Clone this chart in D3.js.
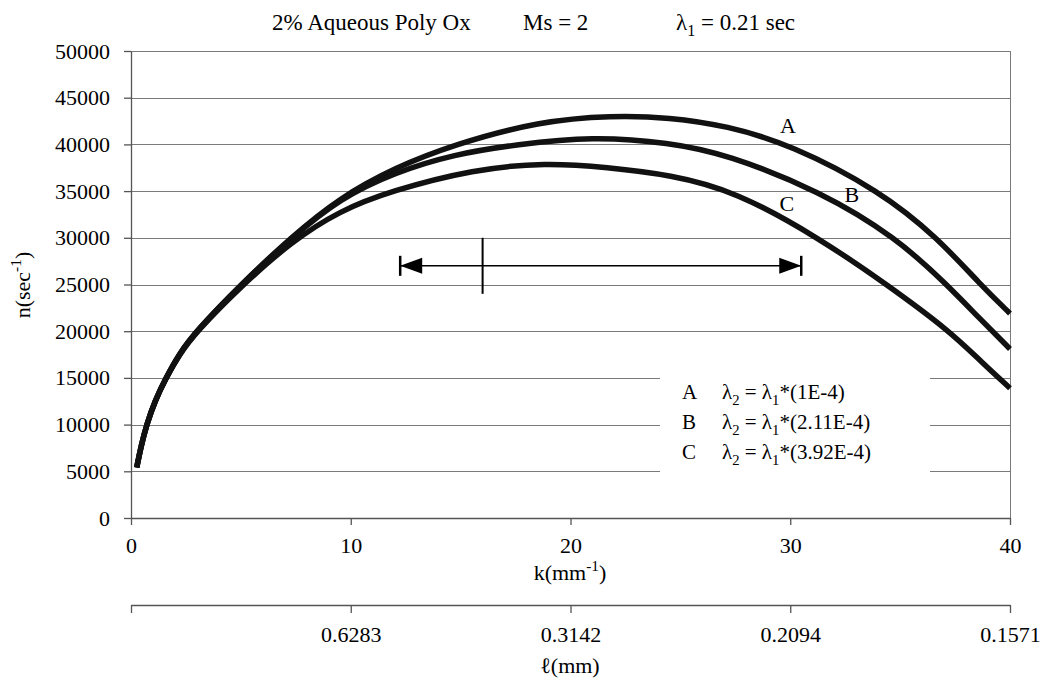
<!DOCTYPE html>
<html>
<head>
<meta charset="utf-8">
<script src="https://cdn.jsdelivr.net/npm/d3@7"></script>
<style>
  body { margin: 0; background: #fff; }
</style>
</head>
<body>
<div id="root"></div>
<script>
// values
const kTicks = [0, 10, 20, 30, 40];
const nTicks = [0, 5000, 10000, 15000, 20000, 25000, 30000, 35000, 40000, 45000, 50000];
const lTickLabels = ["", "0.6283", "0.3142", "0.2094", "0.1571"];

const kA = [0.26, 0.45, 0.71, 1.1, 1.59, 2.2, 2.96, 5.0, 7.3, 9.5, 12, 14.7, 18.6, 21.9, 24.5, 27.1, 30, 34.1, 36.7, 38.65, 40];
const nA = [5400, 7600, 10000, 12600, 15000, 17600, 20000, 25000, 30100, 34300, 37500, 40000, 42500, 43100, 42900, 42000, 40000, 35000, 30000, 25000, 21900];

const kB = [0.26, 0.45, 0.71, 1.1, 1.59, 2.2, 2.96, 5.0, 7.3, 9.5, 12, 14.7, 17.55, 21, 24.5, 27.1, 31.35, 34.84, 37.12, 38.6, 40];
const nB = [5400, 7600, 10000, 12600, 15000, 17600, 20000, 25000, 30000, 34200, 37000, 38950, 40000, 40850, 40200, 38950, 35000, 30000, 25000, 21400, 18100];

const kC = [0.26, 0.45, 0.71, 1.1, 1.59, 2.2, 2.96, 5.0, 7.3, 9.5, 11.8, 15.6, 18.9, 21.65, 24.55, 27.5, 31.3, 34.4, 37.27, 38.7, 40];
const nC = [5400, 7600, 10000, 12600, 14950, 17500, 19900, 24800, 29600, 32900, 35000, 37350, 38050, 37550, 36750, 35000, 30000, 25000, 20000, 16700, 13900];

const seriesNames = ["A", "B", "C"];
const lambdaRatios = ["1E-4", "2.11E-4", "3.92E-4"];
// curve label anchor points (k, n)
const labelK = [29.9, 32.8, 29.85];
const labelN = [42000, 34700, 33650];

// range arrow: from kLeft to kRight at nArrow, marker at markK spanning markN
const arrowK = [12.25, 30.5];
const arrowN = 27000;
const markK = 16;
const markN = [24000, 30000];

const width = 1042, height = 683;
const fs = 22;

const x = d3.scaleLinear().domain([0, 40]).range([131, 1010]);
const y = d3.scaleLinear().domain([0, 50000]).range([518, 51]);

const svg = d3.select("#root")
  .append("svg")
    .attr("width", width)
    .attr("height", height)
    .style("background", "#fff");

// text with sub / superscripts
function rich(sel, parts, size) {
  let shift = 0;
  parts.forEach(([t, kind]) => {
    const target = kind === "sub" ? 6 : kind === "sup" ? -9 : 0;
    sel.append("tspan")
      .attr("dy", target - shift)
      .attr("font-size", kind ? size * 0.7 : size)
      .text(t);
    shift = target;
  });
  return sel;
}

// gridlines
svg.append("g")
  .selectAll("line")
  .data(nTicks.filter(d => d > 0))
  .join("line")
    .attr("x1", x(0)).attr("x2", x(40))
    .attr("y1", d => Math.round(y(d)) + 0.5)
    .attr("y2", d => Math.round(y(d)) + 0.5)
    .attr("stroke", "#7a7a7a")
    .attr("stroke-width", 1);

// right border
svg.append("line")
  .attr("x1", Math.round(x(40)) + 0.5).attr("x2", Math.round(x(40)) + 0.5)
  .attr("y1", y(50000)).attr("y2", y(0))
  .attr("stroke", "#7a7a7a");

// legend box (white, hides gridlines)
svg.append("rect")
  .attr("x", 660).attr("y", 368)
  .attr("width", 270).attr("height", 120)
  .attr("fill", "#fff");

const legend = svg.append("g");
seriesNames.forEach((s, i) => {
  legend.append("text")
    .attr("x", 682).attr("y", 399 + i * 30)
    .attr("font-size", 21)
    .text(s);
  rich(legend.append("text").attr("x", 722).attr("y", 399 + i * 30),
    [["\u03bb", null], ["2", "sub"], [" = \u03bb", null], ["1", "sub"], ["*(" + lambdaRatios[i] + ")", null]], 21);
});

// curves
const line = d3.line()
  .x(d => x(d[0]))
  .y(d => y(d[1]))
  .curve(d3.curveBasis);

const series = [
  d3.zip(kA, nA),
  d3.zip(kB, nB),
  d3.zip(kC, nC)
];

svg.append("g")
  .selectAll("path")
  .data(series)
  .join("path")
    .attr("d", line)
    .attr("fill", "none")
    .attr("stroke", "#111")
    .attr("stroke-width", 5.5);

// curve labels
svg.append("g")
  .selectAll("text")
  .data(seriesNames)
  .join("text")
    .attr("x", (d, i) => x(labelK[i]))
    .attr("y", (d, i) => y(labelN[i]))
    .attr("dy", "0.35em")
    .attr("text-anchor", "middle")
    .attr("font-size", fs)
    .text(d => d);

// range arrow
const ay = y(arrowN);
const ag = svg.append("g").attr("stroke", "#000").attr("fill", "#000");
ag.append("line")
  .attr("x1", x(arrowK[0])).attr("x2", x(arrowK[1]))
  .attr("y1", ay).attr("y2", ay)
  .attr("stroke-width", 1.5);
ag.append("line")
  .attr("x1", x(markK)).attr("x2", x(markK))
  .attr("y1", y(markN[1])).attr("y2", y(markN[0]))
  .attr("stroke-width", 2);
[[arrowK[0], 1], [arrowK[1], -1]].forEach(([k, dir]) => {
  const px = x(k);
  ag.append("line")
    .attr("x1", px).attr("x2", px)
    .attr("y1", ay - 10).attr("y2", ay + 10)
    .attr("stroke-width", 2.5);
  ag.append("path")
    .attr("d", `M${px},${ay}L${px + dir * 22},${ay - 8}L${px + dir * 22},${ay + 8}Z`)
    .attr("stroke", "none");
});

// axes
const yAxis = svg.append("g")
  .attr("transform", `translate(${x(0)},0)`)
  .call(d3.axisLeft(y).tickValues(nTicks).tickFormat(d3.format("d"))
    .tickSize(7).tickSizeOuter(0).tickPadding(14));

const xAxis = svg.append("g")
  .attr("transform", `translate(0,${y(0)})`)
  .call(d3.axisBottom(x).tickValues(kTicks).tickFormat(d3.format("d"))
    .tickSize(7).tickSizeOuter(0).tickPadding(12));

const lAxis = svg.append("g")
  .attr("transform", "translate(0,605)")
  .call(d3.axisBottom(x).tickValues(kTicks).tickSize(8).tickSizeOuter(0).tickPadding(13)
    .tickFormat((d, i) => lTickLabels[i]));

[yAxis, xAxis, lAxis].forEach(g => {
  g.attr("font-size", fs);
  g.selectAll("line, path").attr("stroke", "#555").attr("stroke-width", 1.3);
});

// titles
const ts = 23;
rich(svg.append("text").attr("x", 272).attr("y", 30),
  [["2% Aqueous Poly Ox", null]], ts);
rich(svg.append("text").attr("x", 523).attr("y", 30),
  [["Ms = 2", null]], ts);
rich(svg.append("text").attr("x", 676).attr("y", 30),
  [["\u03bb", null], ["1", "sub"], [" = 0.21 sec", null]], ts);

rich(svg.append("text").attr("x", 570).attr("y", 580).attr("text-anchor", "middle"),
  [["k(mm", null], ["-1", "sup"], [")", null]], fs);

svg.append("text")
  .attr("x", 570).attr("y", 673)
  .attr("text-anchor", "middle")
  .attr("font-size", fs)
  .text("\u2113(mm)");

rich(svg.append("text")
    .attr("transform", "translate(30,285) rotate(-90)")
    .attr("text-anchor", "middle"),
  [["n(sec", null], ["-1", "sup"], [")", null]], fs);

// serif everywhere
svg.selectAll("text, tspan")
  .style("font-family", '"Liberation Serif"')
  .attr("fill", "#000");
</script>
</body>
</html>
